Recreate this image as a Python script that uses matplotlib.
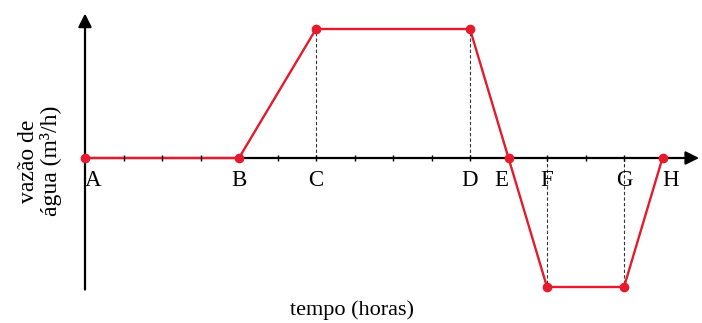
import matplotlib.pyplot as plt

plt.rcParams['font.family'] = ['Liberation Serif', 'DejaVu Serif']

# points of the flow curve
labels = ['A', 'B', 'C', 'D', 'E', 'F', 'G', 'H']
hours = [0, 4, 6, 10, 11, 12, 14, 15]
flow = [0, 0, 1, 1, 0, -1, -1, 0]
label_align = ['left', 'center', 'center', 'center', 'right', 'center', 'center', 'left']
tick_hours = list(range(1, 15))

red = '#e31b2d'

fig = plt.figure(figsize=(7.02, 3.23), dpi=100)
ax = fig.add_axes([0, 0, 1, 1])
ax.set_xlim(-85 / 38.5, 617 / 38.5)
ax.set_ylim(-165 / 129, 158 / 129)

# axes with arrowheads
ax.annotate('', xy=(15.95, 0), xytext=(0, 0),
            arrowprops=dict(arrowstyle='-|>', color='black', lw=1.6,
                            mutation_scale=20, shrinkA=0, shrinkB=0), zorder=2)
ax.annotate('', xy=(0, 1.12), xytext=(0, -1.02),
            arrowprops=dict(arrowstyle='-|>', color='black', lw=1.6,
                            mutation_scale=20, shrinkA=0, shrinkB=0), zorder=2)

# ticks on the time axis
for s in ['top', 'right', 'left']:
    ax.spines[s].set_visible(False)
ax.spines['bottom'].set_position(('data', 0))
ax.spines['bottom'].set_visible(False)
ax.set_xticks(tick_hours)
ax.set_xticklabels([])
ax.tick_params(axis='x', direction='inout', length=5, width=1, color='black')
ax.set_yticks([])
ax.xaxis.set_zorder(3.5)

# dashed guides
for h, q in zip(hours, flow):
    if h in (6, 10) or (h in (12, 14) and q != 0):
        ax.plot([h, h], [0, q], color='#333333', lw=0.8, ls=(0, (3, 2)), zorder=1)

ax.plot(hours, flow, color=red, lw=1.7, zorder=3)
ax.plot(hours, flow, 'o', color=red, ms=6, zorder=4)

for lab, h, al in zip(labels, hours, label_align):
    ax.annotate(lab, xy=(h, 0), xytext=(0, -9), textcoords='offset points',
                ha=al, va='top', fontsize=16.5)

fig.text(40 / 702, 1 - 161 / 323, 'vazão de\nágua (m³/h)', rotation=90,
         ha='center', va='center', fontsize=17, linespacing=1.05,
         multialignment='center')
fig.text(352 / 702, 1 - 310 / 323, 'tempo (horas)', ha='center', va='center',
         fontsize=16)

fig.savefig('out.png', dpi=100)
